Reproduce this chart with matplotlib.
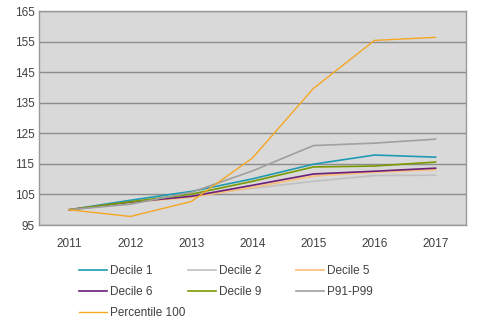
import matplotlib
matplotlib.use('Agg')
import matplotlib.pyplot as plt

plt.rcParams['font.family'] = ['Liberation Sans', 'DejaVu Sans']

# ==== DATA ====
years = ['2011', '2012', '2013', '2014', '2015', '2016', '2017']
decile_1 = [100, 103.1, 106.0, 110.1, 114.9, 117.9, 117.2]
decile_2 = [100, 102.2, 104.8, 107.0, 109.3, 111.2, 111.3]
decile_5 = [100, 102.4, 104.1, 107.3, 111.0, 112.3, 113.1]
decile_6 = [100, 102.5, 104.4, 108.0, 111.7, 112.6, 113.6]
decile_9 = [100, 102.6, 105.1, 109.3, 114.0, 114.3, 115.6]
p91_p99 = [100, 101.8, 105.7, 112.7, 121.0, 121.8, 123.1]
pct_100 = [100, 97.8, 102.7, 116.9, 139.7, 155.4, 156.4]
yticks = [95, 105, 115, 125, 135, 145, 155, 165]

series = [
    ('Decile 1', decile_1, '#1f9ab3', 1.2),
    ('Decile 2', decile_2, '#c0c0c0', 1.2),
    ('Decile 5', decile_5, '#fbbf78', 1.2),
    ('Decile 6', decile_6, '#6a1f7a', 1.2),
    ('Decile 9', decile_9, '#7a9a01', 1.2),
    ('P91-P99', p91_p99, '#a0a0a0', 1.2),
    ('Percentile 100', pct_100, '#f5a623', 1.0),
]

# ==== FIGURE ====
fig = plt.figure(figsize=(4.82, 3.29), dpi=100, facecolor='white')
ax = fig.add_axes([0.0803, 0.316, 0.8867, 0.6504])
ax.set_facecolor('#d9d9d9')

x = list(range(len(years)))
lines = {}
for name, vals, color, lw in series:
    ln, = ax.plot(x, vals, color=color, lw=lw, label=name)
    lines[name] = ln

ax.set_xlim(-0.5, len(years) - 0.5)
ax.set_ylim(95, 165)
ax.set_yticks(yticks)
ax.set_xticks(x)
ax.set_xticklabels(years)
ax.grid(axis='y', color='#8c8c8c', lw=1)
ax.set_axisbelow(True)
for s in ax.spines.values():
    s.set_color('#999999')
    s.set_linewidth(1)
ax.tick_params(length=0, labelsize=8.5, colors='#404040')
ax.tick_params(axis='x', pad=9)
ax.tick_params(axis='y', pad=3)

# ==== LEGEND (three columns placed like the original) ====
cols = [['Decile 1', 'Decile 6', 'Percentile 100'],
        ['Decile 2', 'Decile 9'],
        ['Decile 5', 'P91-P99']]
col_x = [79, 188, 296]
for names, px in zip(cols, col_x):
    fig.legend([lines[n] for n in names], names,
               loc='upper left', bbox_to_anchor=(px / 482, 1 - 265 / 329),
               frameon=False, fontsize=8.5, handlelength=2.4,
               handletextpad=0.25, labelspacing=0.78,
               borderpad=0, borderaxespad=0, labelcolor='#404040')

fig.savefig('out.png', dpi=100, facecolor='white')
